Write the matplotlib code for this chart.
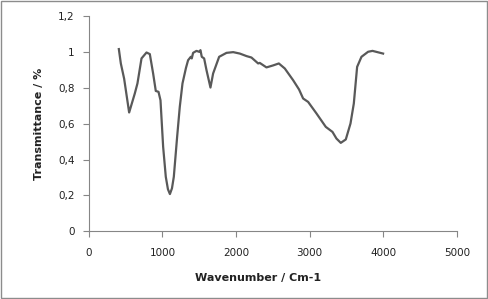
import matplotlib
matplotlib.use('Agg')
import matplotlib.pyplot as plt
from matplotlib.patches import Rectangle
from matplotlib.ticker import FuncFormatter

# 光谱数据
wavenumber = [408, 435, 480, 548, 625, 661, 716, 784, 829, 874, 910, 947, 974,
              1010, 1046, 1075, 1102, 1130, 1155, 1200, 1236, 1273, 1320, 1349,
              1386, 1399, 1417, 1463, 1499, 1517, 1535, 1567, 1599, 1653, 1689,
              1771, 1871, 1962, 2052, 2143, 2210, 2301, 2323, 2414, 2504, 2582,
              2663, 2776, 2857, 2912, 2980, 3093, 3220, 3311, 3365, 3424, 3492,
              3556, 3601, 3646, 3705, 3795, 3855, 3999]
transmittance = [1.015, 0.935, 0.85, 0.662, 0.768, 0.824, 0.963, 0.996, 0.987,
                 0.879, 0.782, 0.777, 0.73, 0.471, 0.304, 0.235, 0.208, 0.24,
                 0.304, 0.526, 0.693, 0.824, 0.91, 0.953, 0.972, 0.963, 0.994,
                 1.005, 1.0, 1.009, 0.972, 0.963, 0.898, 0.801, 0.879, 0.972,
                 0.994, 0.998, 0.99, 0.976, 0.968, 0.935, 0.938, 0.913, 0.924,
                 0.935, 0.907, 0.842, 0.79, 0.74, 0.721, 0.657, 0.582, 0.554,
                 0.517, 0.493, 0.512, 0.601, 0.712, 0.916, 0.972, 1.0, 1.005,
                 0.99]

x_ticks = [0, 1000, 2000, 3000, 4000, 5000]
y_ticks = [0, 0.2, 0.4, 0.6, 0.8, 1.0, 1.2]

plt.rcParams['font.family'] = ['DejaVu Sans']

fig = plt.figure(figsize=(4.88, 2.99), dpi=100)
ax = fig.add_axes([0.182, 0.226, 0.754, 0.721])

ax.plot(wavenumber, transmittance, color='#595959', linewidth=1.6,
        solid_joinstyle='round')

ax.set_xlim(0, 5000)
ax.set_ylim(0, 1.2)
ax.set_xticks(x_ticks)
ax.set_yticks(y_ticks)


# 小数点用逗号
def comma_fmt(v, pos):
    s = ('%.1f' % v).rstrip('0').rstrip('.')
    return s.replace('.', ',')


ax.yaxis.set_major_formatter(FuncFormatter(comma_fmt))

for side in ['top', 'right']:
    ax.spines[side].set_visible(False)
for side in ['left', 'bottom']:
    ax.spines[side].set_color('#868686')
    ax.spines[side].set_linewidth(0.8)

ax.tick_params(axis='both', direction='out', length=4, width=0.8,
               color='#868686', labelsize=7.5, labelcolor='#222222')
ax.tick_params(axis='x', pad=8)
ax.tick_params(axis='y', pad=6)

ax.set_xlabel('Wavenumber / Cm-1', fontsize=8, fontweight='bold',
              color='#222222', labelpad=10)
ax.xaxis.set_label_coords(0.459, -0.195)
ax.set_ylabel('Transmittance / %', fontsize=8, fontweight='bold',
              color='#222222', labelpad=10)

# 图表外框
fig.patches.append(Rectangle((0.003, 0.004), 0.994, 0.992,
                             transform=fig.transFigure, fill=False,
                             edgecolor='#8c8c8c', linewidth=1.0))

fig.savefig('out.png', dpi=100)
